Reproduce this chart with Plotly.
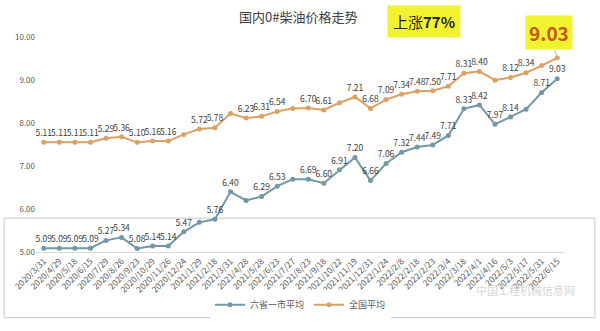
import plotly.graph_objects as go

dates = ["2020/3/31", "2020/4/29", "2020/5/18", "2020/6/15", "2020/7/29", "2020/8/26",
         "2020/9/23", "2020/10/29", "2020/11/26", "2020/12/24", "2021/1/29", "2021/2/18",
         "2021/3/31", "2021/4/28", "2021/5/28", "2021/6/23", "2021/7/27", "2021/8/23",
         "2021/9/18", "2021/10/22", "2021/11/19", "2021/12/31", "2022/1/24", "2022/2/8",
         "2022/2/18", "2022/2/23", "2022/3/4", "2022/3/18", "2022/4/1", "2022/4/16",
         "2022/5/3", "2022/5/17", "2022/5/31", "2022/6/15"]

six_prov = [5.09, 5.09, 5.09, 5.09, 5.27, 5.34, 5.08, 5.14, 5.14, 5.47, 5.69, 5.76,
            6.40, 6.20, 6.29, 6.53, 6.69, 6.69, 6.60, 6.91, 7.20, 6.66, 7.06, 7.32,
            7.44, 7.49, 7.71, 8.33, 8.42, 7.97, 8.14, 8.32, 8.71, 9.03]

national = [5.11, 5.11, 5.11, 5.11, 5.29, 5.36, 5.10, 5.16, 5.16, 5.47, 5.72, 5.78,
            6.44, 6.23, 6.31, 6.54, 6.67, 6.70, 6.61, 6.94, 7.21, 6.68, 7.09, 7.34,
            7.48, 7.50, 7.71, 8.31, 8.40, 7.99, 8.12, 8.34, 8.67, 9.03]

y_ticks = [5.0, 6.0, 7.0, 8.0, 9.0, 10.0]

six_hidden = {10, 13, 16, 31}
nat_hidden = {9, 12, 16, 19, 29, 32, 33}

six_text = ["" if i in six_hidden else f"{v:.2f}" for i, v in enumerate(six_prov)]
nat_text = ["" if i in nat_hidden else f"{v:.2f}" for i, v in enumerate(national)]

blue = "#7397a6"
orange = "#d9a264"
font_family = "Microsoft YaHei, Noto Sans CJK SC, sans-serif"

fig = go.Figure()
fig.add_trace(go.Scatter(
    x=dates, y=six_prov, name="六省一市平均", mode="lines+markers+text",
    line=dict(color=blue, width=2), marker=dict(size=5, color=blue),
    text=six_text, textposition="top center",
    textfont=dict(size=8.5, color="#404040"), cliponaxis=False,
))
fig.add_trace(go.Scatter(
    x=dates, y=national, name="全国平均", mode="lines+markers+text", yaxis="y2",
    line=dict(color=orange, width=2), marker=dict(size=5, color=orange),
    text=nat_text, textposition="top center",
    textfont=dict(size=8.5, color="#404040"), cliponaxis=False,
))

fig.update_layout(
    width=600, height=331,
    margin=dict(l=34, r=35, t=37, b=72),
    paper_bgcolor="white", plot_bgcolor="white",
    font=dict(family=font_family, color="#595959"),
    showlegend=True,
    legend=dict(orientation="h", x=0.5, xanchor="center", y=-0.245, yanchor="middle",
                font=dict(size=9, color="#595959"), itemwidth=30),
    xaxis=dict(type="category", categoryorder="array", categoryarray=dates,
               range=[-0.5, len(dates) - 0.5], tickangle=-45,
               tickfont=dict(size=8.5, color="#595959"), showgrid=False,
               showline=True, linecolor="#d9d9d9", linewidth=1, ticks=""),
    yaxis=dict(range=[5, 10], tickvals=y_ticks, tickformat=".2f",
               tickfont=dict(size=8, color="#595959"), showgrid=False,
               zeroline=False, showline=False, ticks=""),
    yaxis2=dict(range=[0, 10], overlaying="y", visible=False, showgrid=False),
    shapes=[dict(type="rect", xref="paper", yref="paper",
                 x0=-32 / 531, x1=561 / 531, y0=-68 / 222.5, y1=35 / 222.5,
                 line=dict(color="#c8c8c8", width=1), layer="below")],
    annotations=[
        dict(text="国内0#柴油价格走势", xref="paper", yref="paper",
             x=(297 - 34) / 531, y=(259.5 - 16) / 222.5, showarrow=False,
             font=dict(size=13, color="#404040"), xanchor="center", yanchor="middle"),
        dict(text="上涨<b>77%</b>", xref="paper", yref="paper",
             x=(423 - 34) / 531, y=(259.5 - 21) / 222.5, showarrow=False,
             font=dict(size=15, color="#262626"), bgcolor="#f3f230",
             borderpad=5, xanchor="center", yanchor="middle"),
        dict(text="<b>9.03</b>", x=dates[-1], y=national[-1], xref="x", yref="y2",
             showarrow=True, arrowhead=0, arrowcolor="#bfbfbf", arrowwidth=1,
             ax=-8, ay=-25, font=dict(size=19, color="#c9541c"),
             bgcolor="#f3f230", borderpad=3),
        dict(text="中国工程机械信息网", xref="paper", yref="paper",
             x=(525 - 34) / 531, y=(259.5 - 299) / 222.5, showarrow=False,
             font=dict(size=11, color="#d6d6d6"), xanchor="center", yanchor="middle"),
    ],
)

fig.write_html("out.html")
